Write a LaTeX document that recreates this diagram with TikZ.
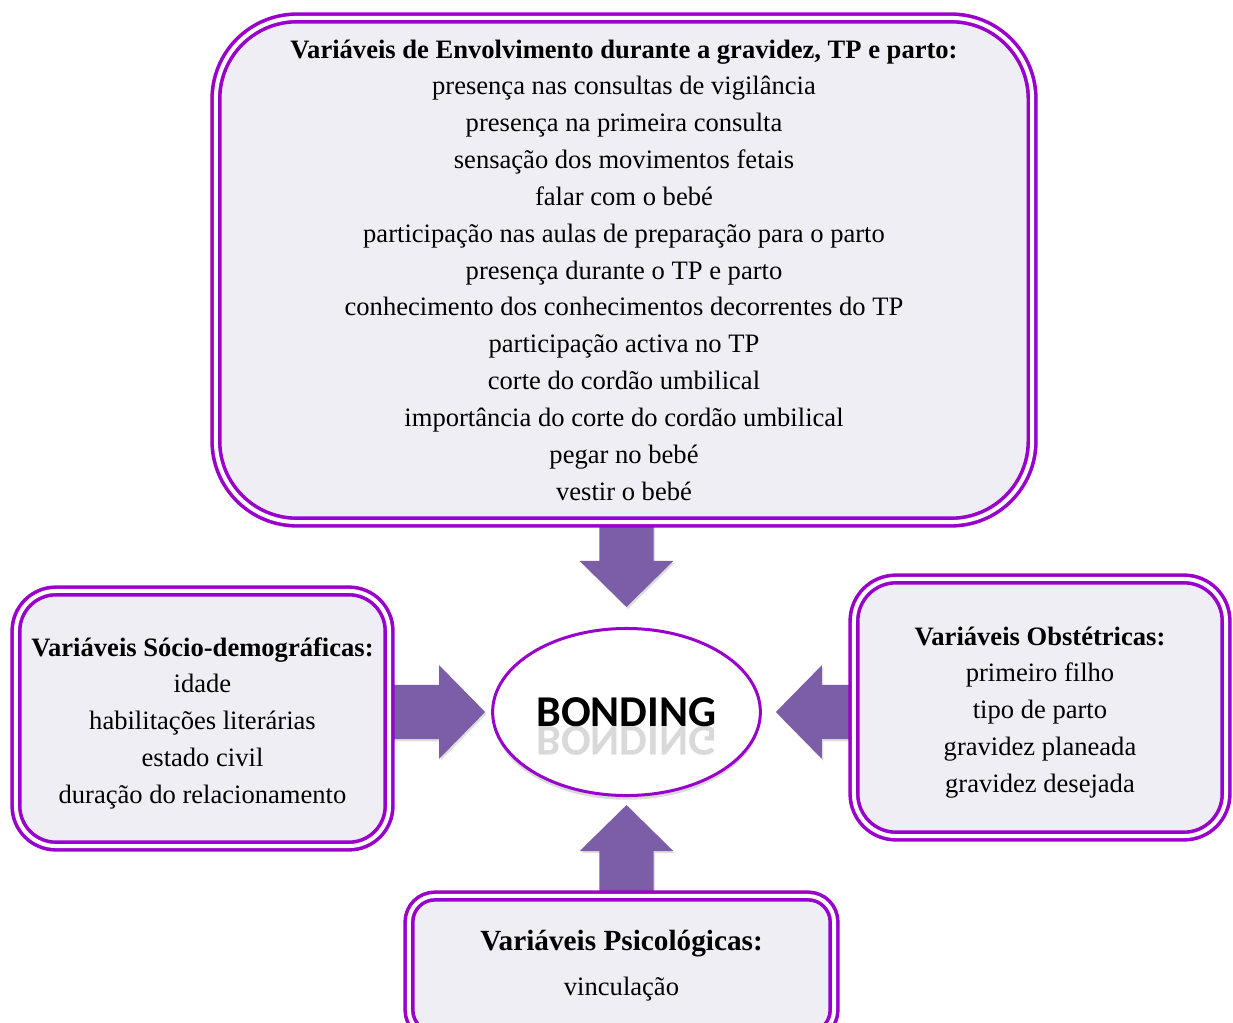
\documentclass[tikz,border=0pt]{standalone}
\usepackage{fontspec}
\setmainfont{Liberation Serif}
\newfontfamily\bondfont{Carlito}
\usetikzlibrary{shapes.geometric,calc,backgrounds,shadows,fadings}

\definecolor{boxline}{RGB}{153,0,204}
\definecolor{boxfill}{RGB}{240,238,245}
\definecolor{arrowfill}{RGB}{123,94,167}

\begin{document}
\begin{tikzpicture}[x=0.025cm,y=-0.025cm,
  every node/.style={font=\fontsize{18.9}{26.2}\selectfont, align=center},
  varbox/.style={rectangle, draw=boxline, line width=0.09cm, double=white, double distance=0.1cm, fill=boxfill, inner sep=0pt},
  bondnode/.style={ellipse, draw=boxline, line width=0.075cm, fill=white, minimum width=6.6cm, minimum height=4.175cm,
    drop shadow={opacity=0.3, shadow xshift=0pt, shadow yshift=-3pt}},
  bondtext/.style={font=\bondfont\bfseries\fontsize{31.3}{31.3}\selectfont},
  arrowbody/.style={fill=arrowfill, drop shadow={opacity=0.25, shadow xshift=1pt, shadow yshift=-1.5pt}}]
\useasboundingbox (0,0) rectangle (1233,1023);

% centre
\node[bondnode, bondtext] (bond) at (626.5,712) {BONDING};
\begin{scope}[scope fading=south, fading transform={shift={(bond.base)}, yscale=0.35}]
\node[bondtext, anchor=base, yscale=-1, opacity=0.15, inner sep=0pt] (bondrefl) at (bond.base) {BONDING};
\end{scope}

% the four groups of variables
\node[varbox, rounded corners=2.025cm, minimum width=20.4cm, minimum height=12.6cm] (env) at (624,270)
  {\textbf{Variáveis de Envolvimento durante a gravidez, TP e parto:}\\
   presença nas consultas de vigilância\\
   presença na primeira consulta\\
   sensação dos movimentos fetais\\
   falar com o bebé\\
   participação nas aulas de preparação para o parto\\
   presença durante o TP e parto\\
   conhecimento dos conhecimentos decorrentes do TP\\
   participação activa no TP\\
   corte do cordão umbilical\\
   importância do corte do cordão umbilical\\
   pegar no bebé\\
   vestir o bebé};
\node[varbox, rounded corners=1cm, minimum width=9.325cm, minimum height=6.375cm] (socio) at (202.5,718.5)
  {\rule{0pt}{20pt}\textbf{Variáveis Sócio-demográficas:}\\
   idade\\
   habilitações literárias\\
   estado civil\\
   duração do relacionamento};
\node[varbox, rounded corners=1.05cm, minimum width=9.3cm, minimum height=6.425cm] (obst) at (1040,707.5)
  {\rule{0pt}{20pt}\textbf{Variáveis Obstétricas:}\\
   primeiro filho\\
   tipo de parto\\
   gravidez planeada\\
   gravidez desejada};
\node[varbox, rounded corners=0.65cm, minimum width=10.625cm, minimum height=3.5cm] (psic) at (621.5,966)
  {{\fontsize{20.8}{26.2}\selectfont\bfseries Variáveis Psicológicas:}\\[5.8pt]
   vinculação};

% block arrows into the centre
\coordinate (ds) at (env.south -| bond.north);
\coordinate (dt) at ($(bond.north)!0.5cm!(ds)$);
\coordinate (ls) at (socio.east |- bond.west);
\coordinate (lt) at ($(bond.west)!0.15cm!(ls)$);
\coordinate (rs) at (obst.west |- bond.east);
\coordinate (rt) at ($(bond.east)!0.35cm!(rs)$);
\coordinate (bs) at (psic.north -| bond.south);
\coordinate (bt) at ($(bond.south)!0.2cm!(bs)$);
\begin{scope}[on background layer]
\foreach \ptail/\ptip in {ds/dt,ls/lt,rs/rt,bs/bt}{
  \coordinate (hb) at ($(\ptip)!1.15cm!(\ptail)$);
  \fill[arrowbody] ($(\ptail)!0.68cm!90:(\ptip)$) -- ($(hb)!0.68cm!-90:(\ptail)$)
    -- ($(hb)!1.17cm!-90:(\ptail)$) -- (\ptip) -- ($(hb)!1.17cm!90:(\ptail)$)
    -- ($(hb)!0.68cm!90:(\ptail)$) -- ($(\ptail)!0.68cm!-90:(\ptip)$) -- cycle;
}
\end{scope}
\end{tikzpicture}
\end{document}
